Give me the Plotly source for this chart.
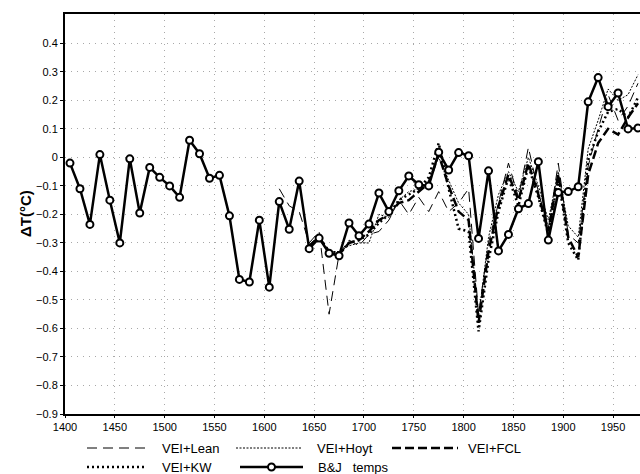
import plotly.graph_objects as go

# ---------------- data ----------------
bj_years = list(range(1405, 1976, 10))
bj_temps = [-0.02, -0.11, -0.235, 0.01, -0.15, -0.30, -0.005, -0.195, -0.035, -0.07,
            -0.10, -0.14, 0.06, 0.013, -0.073, -0.063, -0.205, -0.428, -0.437, -0.22,
            -0.455, -0.155, -0.252, -0.083, -0.32, -0.283, -0.336, -0.345, -0.23, -0.275,
            -0.234, -0.125, -0.19, -0.117, -0.065, -0.096, -0.10, 0.018, -0.044, 0.017,
            0.006, -0.284, -0.047, -0.328, -0.27, -0.18, -0.162, -0.015, -0.29, -0.123,
            -0.12, -0.103, 0.195, 0.28, 0.178, 0.226, 0.10, 0.103]

lean_years = list(range(1615, 1976, 10))
vei_lean = [-0.11, -0.17, -0.19, -0.30, -0.26, -0.55, -0.34, -0.29, -0.31, -0.27,
            -0.26, -0.22, -0.15, -0.20, -0.14, -0.19, -0.12, -0.19, -0.16, -0.11,
            -0.55, -0.30, -0.16, -0.02, -0.14, 0.035, -0.12, -0.25, -0.02, -0.27,
            -0.30, -0.03, 0.10, 0.22, 0.13, 0.18, 0.26]

model_years = list(range(1645, 1976, 10))
vei_hoyt = [-0.31, -0.28, -0.33, -0.33, -0.31, -0.30, -0.30, -0.20, -0.21, -0.15,
            -0.12, -0.11, -0.08, 0.00, -0.08, -0.16, -0.20, -0.56, -0.28, -0.13,
            -0.05, -0.12, 0.00, -0.10, -0.22, -0.05, -0.24, -0.28, 0.03, 0.13,
            0.24, 0.20, 0.22, 0.29]
vei_fcl = [-0.31, -0.28, -0.33, -0.34, -0.30, -0.29, -0.26, -0.22, -0.20, -0.16,
           -0.15, -0.12, -0.09, 0.01, -0.10, -0.19, -0.22, -0.58, -0.33, -0.17,
           -0.06, -0.15, -0.02, -0.13, -0.26, -0.06, -0.28, -0.35, -0.06, 0.05,
           0.10, 0.08, 0.14, 0.19]
vei_kw = [-0.31, -0.28, -0.33, -0.34, -0.30, -0.29, -0.27, -0.23, -0.20, -0.15,
          -0.13, -0.11, -0.07, 0.05, -0.11, -0.25, -0.26, -0.61, -0.36, -0.19,
          -0.07, -0.17, -0.03, -0.14, -0.27, -0.07, -0.30, -0.36, -0.01, 0.09,
          0.16, 0.17, 0.14, 0.21]

x_ticks = [1400, 1450, 1500, 1550, 1600, 1650, 1700, 1750, 1800, 1850, 1900, 1950]
y_ticks = [0.4, 0.3, 0.2, 0.1, 0, -0.1, -0.2, -0.3, -0.4, -0.5, -0.6, -0.7, -0.8, -0.9]
y_tick_labels = ["0.4", "0.3", "0.2", "0.1", "0", "\u22120.1", "\u22120.2", "\u22120.3",
                 "\u22120.4", "\u22120.5", "\u22120.6", "\u22120.7", "\u22120.8", "\u22120.9"]

legend_names = ["VEI+Lean", "VEI+Hoyt", "VEI+FCL", "VEI+KW", "B&J   temps"]

# ---------------- figure ----------------
fig = go.Figure()
fig.add_trace(go.Scatter(x=lean_years, y=vei_lean, mode="lines", name=legend_names[0],
                         line=dict(color="black", width=1, dash="10px,6px")))
fig.add_trace(go.Scatter(x=model_years, y=vei_hoyt, mode="lines", name=legend_names[1],
                         line=dict(color="black", width=1, dash="2px,1.5px")))
fig.add_trace(go.Scatter(x=model_years, y=vei_fcl, mode="lines", name=legend_names[2],
                         line=dict(color="black", width=2.5, dash="9px,4px")))
fig.add_trace(go.Scatter(x=model_years, y=vei_kw, mode="lines", name=legend_names[3],
                         line=dict(color="black", width=2.5, dash="2px,3px")))
fig.add_trace(go.Scatter(x=bj_years, y=bj_temps, mode="lines+markers", name=legend_names[4],
                         line=dict(color="black", width=2.5),
                         marker=dict(symbol="circle", size=7, color="white",
                                     line=dict(color="black", width=2))))

FONT = "Liberation Sans, Arial, sans-serif"
GRID = dict(showgrid=True, gridcolor="#a8a8a8", griddash="1px,5px", gridwidth=1)
fig.update_layout(
    width=640, height=474,
    margin=dict(l=65, r=0, t=14, b=60),
    paper_bgcolor="white", plot_bgcolor="white",
    showlegend=False,
    font=dict(family=FONT, size=11, color="black"),
    xaxis=dict(range=[1400, 1977], tickvals=x_ticks, ticks="outside", ticklen=2,
               tickcolor="black", showline=True, linecolor="black", linewidth=2,
               mirror=True, zeroline=False, tickfont=dict(size=11, family=FONT), **GRID),
    yaxis=dict(range=[-0.9, 0.503], tickvals=y_ticks, ticktext=y_tick_labels,
               ticks="outside", ticklen=3, tickcolor="black", showline=True,
               linecolor="black", linewidth=2, mirror=False, zeroline=False,
               tickfont=dict(size=11, family=FONT), **GRID),
)

# y-axis title
fig.add_annotation(text="<b>\u0394T(\u00b0C)</b>", xref="paper", yref="paper",
                   x=(25 - 65) / 575, y=0.5, textangle=-90, showarrow=False,
                   font=dict(size=15, family=FONT, color="black"),
                   xanchor="center", yanchor="middle")

# custom legend (paper coordinates)
def px(xp):
    return (xp - 65) / 575

def py(yp):
    return (414 - yp) / 400

rows = [448, 467]
entries = [
    (87, 147, rows[0], dict(color="black", width=1, dash="10px,6px"), 160, legend_names[0], False),
    (236, 302, rows[0], dict(color="black", width=1, dash="2px,1.5px"), 315, legend_names[1], False),
    (392, 458, rows[0], dict(color="black", width=2.5, dash="9px,4px"), 466, legend_names[2], False),
    (87, 147, rows[1], dict(color="black", width=2.5, dash="2px,3px"), 160, legend_names[3], False),
    (240, 303, rows[1], dict(color="black", width=2.5), 316, legend_names[4], True),
]
for x0, x1, yy, ln, tx, name, marker in entries:
    fig.add_shape(type="line", xref="paper", yref="paper",
                  x0=px(x0), x1=px(x1), y0=py(yy), y1=py(yy), line=ln)
    if marker:
        cx = (x0 + x1) / 2
        fig.add_shape(type="circle", xref="paper", yref="paper",
                      x0=px(cx - 3.5), x1=px(cx + 3.5), y0=py(yy + 3.5), y1=py(yy - 3.5),
                      line=dict(color="black", width=2), fillcolor="white")
    fig.add_annotation(text=name, xref="paper", yref="paper", x=px(tx), y=py(yy),
                       xanchor="left", yanchor="middle", showarrow=False,
                       font=dict(size=13, family=FONT, color="black"))

fig.write_html("out.html")
